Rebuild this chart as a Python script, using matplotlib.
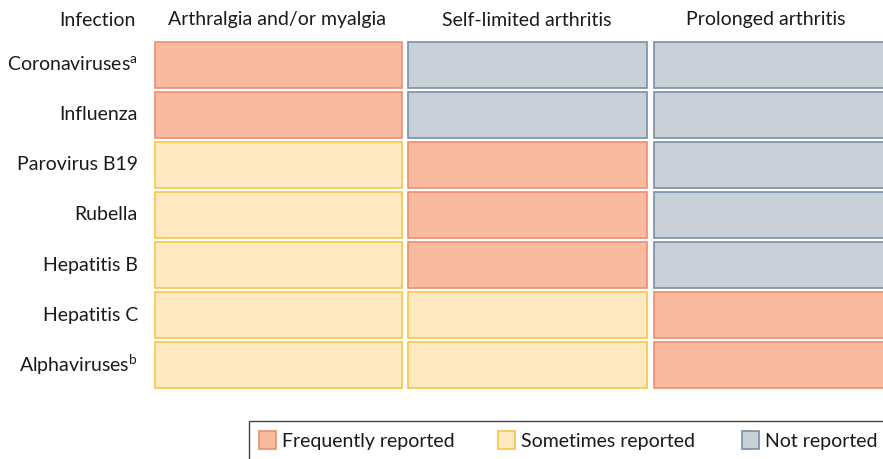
import matplotlib.pyplot as plt
from matplotlib.patches import Rectangle

plt.rcParams['font.family'] = ['Lato', 'DejaVu Sans']
plt.rcParams['mathtext.fontset'] = 'custom'
plt.rcParams['mathtext.rm'] = 'Lato'

# data
infections = ["Coronaviruses$^{\\mathrm{a}}$", "Influenza", "Parovirus B19", "Rubella",
              "Hepatitis B", "Hepatitis C", "Alphaviruses$^{\\mathrm{b}}$"]
columns = ["Arthralgia and/or myalgia", "Self-limited arthritis", "Prolonged arthritis"]
# 0 = frequently reported, 1 = sometimes reported, 2 = not reported
status = [
    [0, 2, 2],
    [0, 2, 2],
    [1, 0, 2],
    [1, 0, 2],
    [1, 0, 2],
    [1, 1, 0],
    [1, 1, 0],
]
legend_labels = ["Frequently reported", "Sometimes reported", "Not reported"]

fills = ["#F9BBA0", "#FDE8C2", "#C9D0D8"]
edges = ["#F08C70", "#F7C646", "#7890A6"]

fig = plt.figure(figsize=(8.83, 4.59), dpi=100)
ax = fig.add_axes([0, 0, 1, 1])
ax.set_xlim(0, 883)
ax.set_ylim(459, 0)
ax.axis("off")

col_x = [155, 408, 654]
col_w = [247, 239, 240]
head_x = [277, 527, 766]
row_y0 = 42
row_pitch = 50
row_h = 46
fs = 14
tc = "#1a1a1a"

ax.text(136, 20, "Infection", ha="right", va="center", fontsize=fs, color=tc)
for j, name in enumerate(columns):
    ax.text(head_x[j], 20, name, ha="center", va="center", fontsize=fs, color=tc)

for i, name in enumerate(infections):
    y = row_y0 + i * row_pitch
    ax.text(138, y + row_h / 2, name, ha="right", va="center", fontsize=fs, color=tc)
    for j in range(len(columns)):
        s = status[i][j]
        ax.add_patch(Rectangle((col_x[j], y), col_w[j], row_h,
                               facecolor=fills[s], edgecolor=edges[s], linewidth=1.2))

# legend box
ax.add_patch(Rectangle((249, 421), 700, 60, facecolor="white",
                       edgecolor="#444444", linewidth=1.0, clip_on=True))
leg_x = [259, 498, 742]
for k, lab in enumerate(legend_labels):
    ax.add_patch(Rectangle((leg_x[k], 431), 17, 18, facecolor=fills[k],
                           edgecolor=edges[k], linewidth=1.2))
    ax.text(leg_x[k] + 23, 441, lab, ha="left", va="center", fontsize=fs, color=tc)

fig.savefig("out.png", dpi=100)
